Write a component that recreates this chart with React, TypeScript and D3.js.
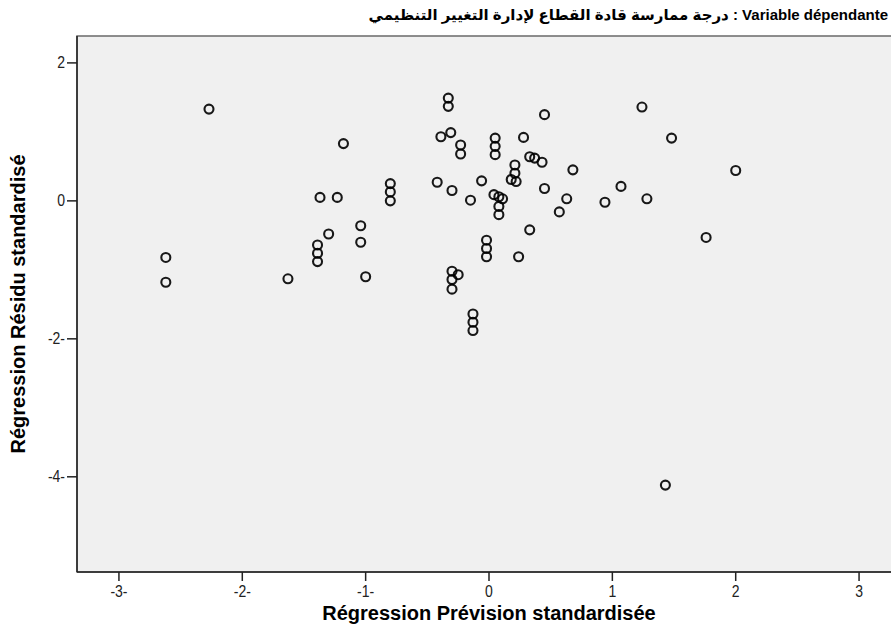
import React from "react";
import * as d3 from "d3";

// standardized predicted value (x) and standardized residual (y)
const predicted = [
  -2.27, -1.18, -0.8, -0.8, -0.8, -1.37, -1.23, -1.04, -1.04, -1.3, -1.39, -1.39, -1.39,
  -2.62, -2.62, -1.63, -1.0, -0.33, -0.33, 0.45, 1.24, -0.39, -0.31, -0.23, -0.23, 0.05,
  0.05, 0.05, 0.28, 0.33, 0.37, 0.43, 0.68, 0.21, 0.21, 0.18, 0.22, -0.42, -0.3, -0.06,
  -0.15, 0.04, 0.08, 0.11, 0.08, 0.08, 0.45, 0.63, 0.57, 0.94, 1.07, 1.28, 0.33, -0.02,
  -0.02, -0.02, 0.24, -0.3, -0.25, -0.3, -0.3, -0.13, -0.13, -0.13, 1.48, 2.0, 1.76, 1.43,
];
const residual = [
  1.33, 0.83, 0.25, 0.13, 0.0, 0.05, 0.05, -0.36, -0.6, -0.48, -0.64, -0.76, -0.88,
  -0.82, -1.18, -1.13, -1.1, 1.49, 1.37, 1.25, 1.36, 0.93, 0.99, 0.81, 0.68, 0.91,
  0.79, 0.67, 0.92, 0.64, 0.62, 0.56, 0.45, 0.52, 0.4, 0.31, 0.28, 0.27, 0.15, 0.29,
  0.01, 0.09, 0.06, 0.03, -0.08, -0.2, 0.18, 0.03, -0.16, -0.02, 0.21, 0.03, -0.42, -0.57,
  -0.69, -0.81, -0.81, -1.02, -1.07, -1.14, -1.28, -1.64, -1.76, -1.88, 0.91, 0.44, -0.53, -4.12,
];

const xTicks = [-3, -2, -1, 0, 1, 2, 3];
const yTicks = [2, 0, -2, -4];
const xDomain = [-3.34, 3.34];
const yDomain = [-5.38, 2.39];

const titleArabic = "درجة ممارسة قادة القطاع لإدارة التغيير التنظيمي";
const titleLatin = " : Variable dépendante";
const xTitle = "Régression Prévision standardisée";
const yTitle = "Régression Résidu standardisé";

const fmt = (v: number) => (v < 0 ? `${v}-` : `${v}`);

export default function App() {
  const width = 891;
  const height = 637;
  const left = 77, right = 901, top = 36, bottom = 572;

  const x = d3.scaleLinear().domain(xDomain).range([left, right]);
  const y = d3.scaleLinear().domain(yDomain).range([bottom, top]);

  const font = "'Liberation Sans', Arial, 'DejaVu Sans', sans-serif";
  const pts = predicted.map((p, i) => [p, residual[i]]);

  return (
    <svg
      width={width}
      height={height}
      style={{ position: "absolute", left: 0, top: 0, background: "#fff" }}
      fontFamily={font}
    >
      <rect x={left} y={top} width={right - left} height={bottom - top} fill="#f0f0f0" stroke="#6a6a6a" strokeWidth={1.5} />
      <line x1={left} x2={left} y1={top} y2={bottom} stroke="#222" strokeWidth={1.5} />
      <line x1={left} x2={right} y1={bottom} y2={bottom} stroke="#222" strokeWidth={1.5} />

      {yTicks.map((t) => (
        <g key={"y" + t}>
          <line x1={left - 10} x2={left} y1={y(t)} y2={y(t)} stroke="#222" strokeWidth={1.5} />
          <text transform={`translate(${left - 12},${y(t) + 5}) scale(1,1.15)`} textAnchor="end" fontSize={14} fill="#222">
            {fmt(t)}
          </text>
        </g>
      ))}
      {xTicks.map((t) => (
        <g key={"x" + t}>
          <line x1={x(t)} x2={x(t)} y1={bottom} y2={bottom + 9} stroke="#222" strokeWidth={1.5} />
          <text transform={`translate(${x(t)},${bottom + 25}) scale(1,1.15)`} textAnchor="middle" fontSize={14} fill="#222">
            {fmt(t)}
          </text>
        </g>
      ))}

      {pts.map(([a, b], i) => (
        <circle key={i} cx={x(a)} cy={y(b)} r={4.5} fill="none" stroke="#000" strokeWidth={2.1} strokeOpacity={0.9} />
      ))}

      <text x={888} y={20} textAnchor="end" fontSize={15} fontWeight="bold" fill="#000">
        <tspan>{titleArabic}</tspan>
        <tspan>{titleLatin}</tspan>
      </text>
      <text x={x(0)} y={620} textAnchor="middle" fontSize={20} fontWeight="bold" fill="#000">
        {xTitle}
      </text>
      <text transform={`translate(25,${(top + bottom) / 2}) rotate(-90)`} textAnchor="middle" fontSize={20} fontWeight="bold" fill="#000">
        {yTitle}
      </text>
    </svg>
  );
}
